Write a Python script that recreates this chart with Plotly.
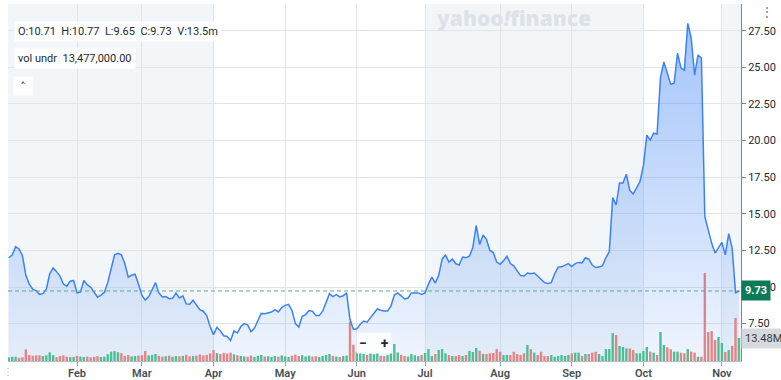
import plotly.graph_objects as go
import pandas as pd

FONT = "Roboto, Liberation Sans, Arial, sans-serif"

# ---------------- data ----------------
holidays = ["2025-01-01", "2025-01-09", "2025-01-20", "2025-02-17", "2025-04-18",
            "2025-05-26", "2025-06-19", "2025-07-04", "2025-09-01"]
dates = [d.strftime("%Y-%m-%d") for d in pd.bdate_range("2025-01-02", "2025-11-10")
         if d.strftime("%Y-%m-%d") not in holidays]

close_jan = [12.0, 12.18, 12.75, 12.6, 12.15, 10.8, 10.2, 9.85, 9.75, 9.5, 9.55, 9.85, 10.9, 11.3, 11.05, 10.75, 10.2, 10.05, 10.4, 10.45]
close_feb = [9.6, 9.65, 10.45, 10.14, 10.0, 9.66, 9.3, 9.45, 9.63, 10.3, 11.2, 12.2, 12.3, 12.2, 11.6, 10.68, 10.8, 10.87, 10.2]
close_mar = [9.45, 9.11, 9.35, 9.8, 10.3, 9.6, 9.32, 9.35, 9.2, 9.23, 9.58, 9.25, 9.4, 8.85, 8.82, 9.1, 8.75, 8.45, 8.35, 8.05, 7.3]
close_apr = [6.75, 7.25, 7.0, 6.67, 6.62, 6.35, 7.0, 6.86, 7.3, 7.5, 7.42, 6.95, 7.2, 7.7, 8.2, 8.17, 8.22, 8.29, 8.45, 8.3, 8.6]
close_may = [8.75, 8.82, 8.4, 7.5, 7.27, 8.0, 8.12, 8.4, 8.35, 8.05, 8.05, 8.35, 8.95, 9.55, 9.35, 9.48, 9.32, 9.4, 9.6, 7.8, 7.1]
close_jun = [7.15, 7.45, 7.68, 7.6, 7.9, 8.2, 8.5, 8.42, 8.36, 8.36, 8.7, 9.45, 9.6, 9.4, 9.18, 9.25, 9.6, 9.6, 9.6, 9.5]
close_jul = [9.6, 10.2, 10.68, 10.27, 10.8, 11.9, 12.18, 11.7, 11.9, 11.6, 11.5, 12.05, 12.0, 12.1, 12.7, 14.2, 12.9, 13.55, 13.25, 12.5, 12.35, 11.7]
close_aug = [11.55, 11.8, 12.1, 11.6, 11.45, 11.1, 10.78, 10.75, 10.96, 10.9, 10.96, 10.75, 10.5, 10.3, 10.25, 10.3, 10.9, 11.36, 11.38, 11.5, 11.6]
close_sep = [11.4, 11.6, 11.68, 11.65, 12.0, 11.9, 11.5, 11.33, 11.36, 11.45, 12.0, 12.4, 16.1, 15.6, 17.1, 17.1, 17.7, 16.6, 16.35, 16.8, 17.2]
close_oct = [18.3, 20.37, 20.03, 20.5, 20.44, 24.3, 25.36, 24.6, 23.85, 23.92, 25.97, 24.95, 24.8, 28.0, 27.0, 24.47, 25.84, 25.63, 14.8, 13.9, 13.0, 12.32, 12.66]
close_nov = [13.05, 12.2, 13.65, 12.66, 9.6, 9.73]

vol_jan = [2.2, 2.5, 2.5, 1.9, 2.2, 6.8, 3.5, 3.1, 3.3, 3.3, 2.9, 3.3, 5.1, 3.5, 2.3, 2.9, 3.3, 2.5, 2.3, 2.4]
vol_feb = [3.0, 2.6, 2.3, 2.6, 2.2, 2.5, 2.8, 2.4, 2.6, 4.0, 5.5, 5.8, 5.2, 4.6, 3.0, 3.5, 2.7, 2.9, 3.2]
vol_mar = [3.4, 5.9, 3.3, 3.6, 4.1, 3.0, 2.6, 2.8, 3.1, 2.5, 2.9, 2.8, 3.0, 3.6, 2.7, 3.0, 3.2, 3.8, 3.3, 3.6, 4.4]
vol_apr = [6.4, 4.6, 4.1, 4.8, 4.4, 4.9, 3.9, 3.4, 3.0, 2.7, 2.5, 3.2, 2.4, 3.1, 3.6, 2.6, 2.8, 2.4, 2.9, 2.6, 3.3]
vol_may = [2.7, 2.4, 3.1, 3.8, 2.9, 3.4, 2.7, 3.2, 2.6, 2.8, 2.4, 3.0, 3.6, 4.1, 3.0, 2.6, 2.4, 2.9, 3.2, 23.0, 9.5]
vol_jun = [5.5, 5.0, 4.2, 3.6, 4.4, 4.0, 4.6, 3.0, 2.8, 3.4, 4.5, 10.0, 5.0, 3.6, 3.0, 2.6, 4.2, 3.4, 2.8, 3.6]
vol_jul = [4.7, 7.0, 2.9, 4.1, 6.4, 7.0, 4.5, 3.5, 2.9, 2.9, 3.5, 2.9, 3.5, 5.9, 5.3, 7.6, 6.0, 4.1, 4.1, 4.5, 4.7, 7.0]
vol_aug = [5.4, 3.5, 3.5, 3.5, 5.4, 4.1, 3.5, 4.5, 9.4, 7.0, 4.9, 3.5, 5.4, 2.9, 2.9, 3.5, 2.5, 2.9, 3.5, 2.9, 3.5]
vol_sep = [4.5, 4.9, 4.9, 2.9, 4.1, 4.1, 4.9, 5.4, 4.1, 2.9, 7.0, 7.0, 16.4, 15.2, 8.8, 8.2, 7.4, 7.4, 6.4, 4.5, 4.5]
vol_oct = [5.9, 8.2, 5.5, 4.9, 3.5, 17.0, 9.4, 8.0, 6.9, 5.5, 5.5, 4.9, 4.5, 7.0, 5.5, 4.9, 2.5, 2.5, 51.6, 17.0, 17.6, 12.3, 14.1]
vol_nov = [10.6, 5.3, 6.4, 8.8, 25.2, 13.477]

tick_dates = ["2025-02-03", "2025-03-03", "2025-04-01", "2025-05-01", "2025-06-02",
              "2025-07-01", "2025-08-01", "2025-09-02", "2025-10-01", "2025-11-03"]
tick_labels = ["Feb", "Mar", "Apr", "May", "Jun", "Jul", "Aug", "Sep", "Oct", "Nov"]

price_ticks = [7.5, 10.0, 12.5, 15.0, 17.5, 20.0, 22.5, 25.0, 27.5]
price_tick_labels = ["7.50", "10.00", "12.50", "15.00", "17.50", "20.00", "22.50", "25.00", "27.50"]

last_open, last_high, last_low = 10.71, 10.77, 9.65

# ---------------- build ----------------
close = (close_jan + close_feb + close_mar + close_apr + close_may + close_jun +
         close_jul + close_aug + close_sep + close_oct + close_nov)
vol = (vol_jan + vol_feb + vol_mar + vol_apr + vol_may + vol_jun +
       vol_jul + vol_aug + vol_sep + vol_oct + vol_nov)
n = len(dates)
assert len(close) == n and len(vol) == n, (len(dates), len(close), len(vol))

GREEN = "#4fc48b"
RED = "#f4847b"
bar_colors = [GREEN if (i == 0 or close[i] >= close[i - 1]) else RED for i in range(n)]

fig = go.Figure()
fig.add_trace(go.Bar(x=dates, y=vol, marker=dict(color=bar_colors, line=dict(width=0)),
                     yaxis="y", hoverinfo="skip"))
fig.add_trace(go.Scatter(
    x=dates, y=close, mode="lines", yaxis="y2",
    line=dict(color="#3b82f6", width=1.5),
    fill="tozeroy",
    fillgradient=dict(type="vertical",
                      colorscale=[[0, "rgba(59,130,246,0.08)"], [1, "rgba(59,130,246,0.47)"]],
                      start=5, stop=28),
))

idx = {d: i for i, d in enumerate(dates)}
x_lo, x_hi = -0.23, n - 1 + 0.6
bands = [(x_lo, idx["2025-04-01"]), (idx["2025-07-01"], idx["2025-10-01"]), (idx["2025-11-03"], x_hi)]
shapes = []
for a, b in bands:
    shapes.append(dict(type="rect", xref="x", yref="paper", x0=a, x1=b, y0=0, y1=1,
                       fillcolor="#f3f6f9", line=dict(width=0), layer="below"))
shapes.append(dict(type="line", xref="paper", yref="y2", x0=0, x1=1, y0=close[-1], y1=close[-1],
                   line=dict(color="#5fa896", width=1, dash="4px,3px"), layer="above"))

PLOT_H = 380 - 4 - 19
VOL_MAX = PLOT_H / 1.706

annotations = [
    dict(xref="paper", yref="paper", x=0.0082, y=0.924, xanchor="left", yanchor="middle",
         text=f"O:{last_open:.2f}\u00a0\u00a0H:{last_high:.2f}\u00a0\u00a0L:{last_low:.2f}\u00a0\u00a0C:{close[-1]:.2f}\u00a0\u00a0V:{vol[-1]:.1f}m",
         showarrow=False, bgcolor="white", borderpad=3, font=dict(size=11, color="#232a31", family=FONT)),
    dict(xref="paper", yref="paper", x=0.0082, y=0.846, xanchor="left", yanchor="middle",
         text=f"vol undr\u00a0\u00a0{vol[-1] * 1e6:,.2f}",
         showarrow=False, bgcolor="white", borderpad=3, font=dict(size=11, color="#232a31", family=FONT)),
    dict(xref="paper", yref="paper", x=0.0205, y=0.77, xanchor="center", yanchor="middle",
         text="\u02c4", showarrow=False, bgcolor="white", borderpad=3, width=12, height=12,
         font=dict(size=11, color="#232a31", family="DejaVu Sans, " + FONT)),
    dict(xref="paper", yref="paper", x=0.689, y=0.962, xanchor="center", yanchor="middle",
         text="yahoo<i>!</i>finance", showarrow=False,
         font=dict(size=21, color="#dde2e8", family="Open Sans, " + FONT, weight=800)),
    dict(xref="paper", yref="paper", x=0.4993, y=0.05, xanchor="center", yanchor="middle",
         text="−\u00a0\u00a0\u00a0\u00a0+", showarrow=False, bgcolor="rgba(255,255,255,0.8)", borderpad=2,
         font=dict(size=14, color="#232a31", family=FONT, weight=700)),
    dict(xref="paper", yref="y2", x=1.0, y=close[-1], xanchor="left", yanchor="middle",
         text=f"<b>{close[-1]:.2f}</b>", showarrow=False, bgcolor="#0c7a57", borderpad=3,
         font=dict(size=11, color="white", family=FONT)),
    dict(xref="paper", yref="y", x=1.0, y=vol[-1], xanchor="left", yanchor="middle",
         text=f"{vol[-1]:.2f}M", showarrow=False, bgcolor="#d7dadd", borderpad=3,
         font=dict(size=11, color="#333940", family=FONT)),
    dict(xref="paper", yref="paper", x=1.035, y=0.978, xanchor="center", yanchor="middle",
         text="⋮", showarrow=False, font=dict(size=12, color="#6e7680", family=FONT)),
    dict(xref="paper", yref="paper", x=0.0, y=-0.03, xanchor="center", yanchor="middle",
         text="⋮", showarrow=False, font=dict(size=10, color="#b0b6bc", family=FONT)),
]

fig.update_layout(
    width=781, height=380,
    margin=dict(l=8, r=40, t=4, b=19, autoexpand=False),
    plot_bgcolor="white", paper_bgcolor="white",
    showlegend=False, bargap=0.3,
    font=dict(family=FONT),
    shapes=shapes, annotations=annotations,
    xaxis=dict(type="category", range=[x_lo, x_hi], tickmode="array",
               tickvals=tick_dates, ticktext=tick_labels,
               showgrid=True, gridcolor="#e1e5e9", gridwidth=1,
               showline=True, linecolor="#b5bbc1", linewidth=1,
               ticks="outside", ticklen=4, tickcolor="#9aa0a6", ticklabelstandoff=-2,
               tickfont=dict(size=11, color="#464e56", family=FONT, weight=600),
               automargin=False, fixedrange=True),
    yaxis=dict(range=[0, VOL_MAX], visible=False, fixedrange=True, showgrid=False),
    yaxis2=dict(overlaying="y", side="right", range=[4.95, 29.32],
                tickmode="array", tickvals=price_ticks, ticktext=price_tick_labels,
                showgrid=True, gridcolor="#e1e5e9", gridwidth=1, zeroline=False,
                showline=True, linecolor="#80868b", linewidth=1,
                ticks="outside", ticklen=4, tickcolor="#80868b",
                tickfont=dict(size=11, color="#232a31", family=FONT),
                automargin=False, fixedrange=True),
)

fig.write_html("out.html", config={"displayModeBar": False},
               post_script="document.body.style.margin='0';document.body.style.overflow='hidden';")
